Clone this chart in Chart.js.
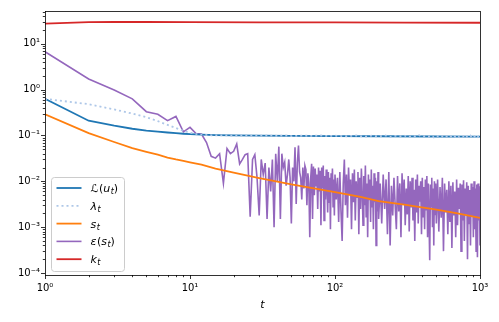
<!DOCTYPE html>
<html>
<head>
<meta charset="utf-8">
<script src="https://cdn.jsdelivr.net/npm/chart.js@4.4.1/dist/chart.umd.min.js"></script>
<style>
  html, body { margin: 0; padding: 0; background: #fff; }
</style>
</head>
<body>
<canvas id="chart" width="499" height="322"></canvas>
<script>
// integer steps for the t axis
const range = (a, b, step) => { const r = []; for (let v = a; v <= b; v += step) r.push(v); return r; };

// L(u_t)
const lossT = [1, 2, 3, 4, 5, 6, 7, 8, 9, 10, 12, 15, 20, 30, 50, 100, 200, 500, 1000];
const lossV = [0.63, 0.21, 0.163, 0.14, 0.128, 0.121, 0.116, 0.112, 0.109, 0.107, 0.104, 0.102, 0.1, 0.099, 0.098, 0.097, 0.096, 0.095, 0.094];

// lambda_t
const lamT = [1, 2, 3, 4, 5, 6, 7, 8, 9, 10, 11, 12, 14, 16, 18, 20, 23, 26, 30, 35, 40, 45, 50, 60, 70, 80, 90, 100].concat(range(120, 1000, 20));
const lamV = [
  0.63, 0.48, 0.37, 0.3, 0.25, 0.205, 0.17, 0.145, 0.126, 0.115,
  0.108, 0.104, 0.101, 0.1, 0.1, 0.099, 0.1, 0.098, 0.099, 0.1,
  0.098, 0.1, 0.097, 0.099, 0.098, 0.1, 0.097, 0.099,
  0.096, 0.1, 0.094, 0.099, 0.095, 0.101, 0.093, 0.098, 0.096, 0.1,
  0.092, 0.098, 0.095, 0.101, 0.093, 0.097, 0.094, 0.1, 0.091, 0.098,
  0.095, 0.1, 0.092, 0.097, 0.094, 0.1, 0.091, 0.098, 0.093, 0.099,
  0.092, 0.097, 0.094, 0.1, 0.091, 0.096, 0.093, 0.099, 0.09, 0.097,
  0.094, 0.1, 0.092, 0.096, 0.094
];

// s_t
const sT = [1, 2, 3, 4, 5, 6, 7, 8, 9, 10, 12, 15, 20, 30, 40, 50, 70, 100, 150, 200, 300, 500, 700, 1000];
const sV = [0.29, 0.112, 0.072, 0.053, 0.044, 0.038, 0.033, 0.03, 0.028, 0.026, 0.023, 0.019, 0.0155, 0.0118, 0.0098, 0.0086, 0.0071, 0.0058, 0.0046, 0.0037, 0.0031, 0.0024, 0.002, 0.0016];

// epsilon(s_t)
const epsT = range(1, 100, 1).concat(range(102, 200, 2), range(205, 500, 5), range(510, 1000, 10));
const epsV = [
  6.7, 1.7, 0.98, 0.63, 0.33, 0.29, 0.21, 0.26, 0.12, 0.15,
  0.11, 0.107, 0.07, 0.035, 0.032, 0.04, 0.009, 0.052, 0.04, 0.045,
  0.065, 0.024, 0.03, 0.038, 0.04, 0.0017, 0.03, 0.038, 0.012, 0.0018,
  0.03, 0.014, 0.025, 0.0015, 0.02, 0.006, 0.03, 0.001, 0.04, 0.01,
  0.057, 0.0015, 0.04, 0.02, 0.026, 0.008, 0.014, 0.03, 0.012, 0.0012,
  0.02, 0.01, 0.055, 0.0032, 0.025, 0.06, 0.016, 0.012, 0.004, 0.02,
  0.007, 0.022, 0.018, 0.003, 0.015, 0.009, 0.0006, 0.012, 0.024, 0.0015,
  0.021, 0.005, 0.019, 0.008, 0.014, 0.0025, 0.02, 0.006, 0.017, 0.0011,
  0.02, 0.007, 0.022, 0.0014, 0.013, 0.004, 0.018, 0.009, 0.0021, 0.016,
  0.0035, 0.012, 0.0009, 0.015, 0.006, 0.019, 0.0028, 0.011, 0.0018, 0.014,
  // t = 102..200 step 2
  0.004, 0.012, 0.0013, 0.016, 0.0022, 0.0005, 0.009, 0.03, 0.003, 0.014,
  0.0016, 0.02, 0.005, 0.011, 0.0009, 0.015, 0.0035, 0.018, 0.0014, 0.01,
  0.0045, 0.016, 0.0007, 0.012, 0.0025, 0.019, 0.006, 0.0011, 0.013, 0.003,
  0.022, 0.0017, 0.009, 0.0006, 0.014, 0.004, 0.011, 0.0013, 0.018, 0.0028,
  0.008, 0.0009, 0.015, 0.0035, 0.012, 0.0004, 0.01, 0.0022, 0.016, 0.0015,
  // t = 205..500 step 5
  0.009, 0.0012, 0.014, 0.0025, 0.011, 0.0007, 0.016, 0.0004, 0.008, 0.0018,
  0.012, 0.003, 0.0009, 0.013, 0.0022, 0.009, 0.0006, 0.015, 0.0032, 0.011,
  0.0011, 0.007, 0.0019, 0.013, 0.0008, 0.01, 0.0027, 0.012, 0.0014, 0.0065,
  0.0005, 0.011, 0.0021, 0.014, 0.0012, 0.008, 0.0036, 0.01, 0.0007, 0.012,
  0.0017, 0.0075, 0.0009, 0.011, 0.0024, 0.013, 0.0006, 0.009, 0.0015, 0.00019,
  0.0085, 0.0028, 0.012, 0.001, 0.007, 0.0004, 0.01, 0.0019, 0.009, 0.0012,
  // t = 510..1000 step 10
  0.011, 0.0008, 0.0075, 0.0016, 0.012, 0.0003, 0.009, 0.0021, 0.0065, 0.0007,
  0.01, 0.0013, 0.008, 0.00035, 0.0095, 0.0018, 0.006, 0.0006, 0.011, 0.0011,
  0.0072, 0.0025, 0.009, 0.0003, 0.0085, 0.0014, 0.0105, 0.0005, 0.007, 0.0019,
  0.0095, 0.0002, 0.008, 0.0012, 0.0065, 0.0004, 0.009, 0.0017, 0.0075, 0.0006,
  0.01, 0.0009, 0.007, 0.0003, 0.0085, 0.00022, 0.009, 0.0014, 0.0078, 0.0004
];

// k_t
const kT = [1, 2, 3, 5, 10, 30, 100, 300, 1000];
const kV = [27.5, 29.5, 29.8, 29.8, 29.6, 29.4, 29.2, 29.0, 28.7];

const yTicks = [1e-4, 1e-3, 1e-2, 1e-1, 1, 10];
const xTicks = [1, 10, 100, 1000];

const zip = (xs, ys) => xs.map((x, i) => ({ x: x, y: ys[i] }));
const supers = { '-': '⁻', '0': '⁰', '1': '¹', '2': '²', '3': '³', '4': '⁴' };
const powLabel = v => {
  const e = Math.round(Math.log10(v));
  if (Math.abs(Math.log10(v) - e) > 1e-6) return '';
  return '10' + String(e).split('').map(c => supers[c]).join('');
};

// legend text pieces: i = italic, n = upright, b = subscript
const legendText = [
  [['ℒ', 'i'], ['(', 'n'], ['u', 'i'], ['t', 'b'], [')', 'n']],
  [['λ', 'i'], ['t', 'b']],
  [['s', 'i'], ['t', 'b']],
  [['ε', 'i'], ['(', 'n'], ['s', 'i'], ['t', 'b'], [')', 'n']],
  [['k', 'i'], ['t', 'b']]
];

const frameAndTicks = {
  id: 'frameAndTicks',
  afterDraw(chart) {
    const ctx = chart.ctx, a = chart.chartArea;
    ctx.save();
    ctx.strokeStyle = '#000';
    ctx.lineWidth = 0.8;
    ['x', 'y'].forEach(id => {
      const s = chart.scales[id];
      const e0 = Math.floor(Math.log10(s.min)), e1 = Math.ceil(Math.log10(s.max));
      for (let e = e0; e <= e1; e++) {
        for (let m = 1; m < 10; m++) {
          const v = m * Math.pow(10, e);
          if (v < s.min * 0.999 || v > s.max * 1.001) continue;
          const p = Math.round(s.getPixelForValue(v)) + 0.5;
          const len = m === 1 ? 4 : 2.2;
          ctx.beginPath();
          if (id === 'x') { ctx.moveTo(p, a.bottom); ctx.lineTo(p, a.bottom + len); }
          else { ctx.moveTo(a.left, p); ctx.lineTo(a.left - len, p); }
          ctx.stroke();
        }
      }
    });
    ctx.strokeRect(Math.round(a.left) + 0.5, Math.round(a.top) + 0.5,
      Math.round(a.right - a.left), Math.round(a.bottom - a.top));

    // legend, lower left inside the axes
    const ds = chart.data.datasets;
    const bx = a.left + 6.5, by = a.top + 166.5, bw = 73, bh = 94;
    ctx.beginPath();
    ctx.roundRect(bx, by, bw, bh, 3);
    ctx.fillStyle = 'rgba(255,255,255,0.8)';
    ctx.fill();
    ctx.strokeStyle = '#cccccc';
    ctx.lineWidth = 1;
    ctx.stroke();
    ds.forEach((d, i) => {
      const y = by + 10.5 + i * 17.8;
      ctx.beginPath();
      ctx.strokeStyle = d.borderColor;
      ctx.lineWidth = d.borderWidth;
      ctx.setLineDash(d.borderDash || []);
      ctx.moveTo(bx + 5, y);
      ctx.lineTo(bx + 30, y);
      ctx.stroke();
      ctx.setLineDash([]);
      let x = bx + 39;
      ctx.fillStyle = '#000';
      ctx.textBaseline = 'alphabetic';
      legendText[i].forEach(([txt, kind]) => {
        if (kind === 'b') ctx.font = 'italic 8px "DejaVu Sans"';
        else if (kind === 'i') ctx.font = 'italic 11px "DejaVu Sans"';
        else ctx.font = '11px "DejaVu Sans"';
        const yy = kind === 'b' ? y + 6 : y + 4;
        ctx.fillText(txt, x, yy);
        x += ctx.measureText(txt).width + (kind === 'i' ? 0.5 : 0);
      });
    });
    ctx.restore();
  }
};

const line = (label, pts, color, width, order, dash) => ({
  label: label,
  data: pts,
  borderColor: color,
  backgroundColor: color,
  borderWidth: width,
  borderDash: dash,
  pointRadius: 0,
  tension: 0,
  fill: false,
  order: order
});

new Chart(document.getElementById('chart'), {
  type: 'line',
  data: {
    datasets: [
      line('ℒ(u_t)', zip(lossT, lossV), '#1f77b4', 1.8, 4),
      line('λ_t', zip(lamT, lamV), '#aec7e8', 1.8, 3, [2, 3]),
      line('s_t', zip(sT, sV), '#ff7f0e', 1.8, 2),
      line('ε(s_t)', zip(epsT, epsV), '#9467bd', 1.6, 5),
      line('k_t', zip(kT, kV), '#d62728', 1.8, 1)
    ]
  },
  options: {
    responsive: false,
    devicePixelRatio: 1,
    animation: false,
    layout: { padding: { top: 9, right: 19, left: 0, bottom: 0 } },
    plugins: { legend: { display: false }, tooltip: { enabled: false } },
    scales: {
      x: {
        type: 'logarithmic',
        min: 1,
        max: 1000,
        afterBuildTicks: s => { s.ticks = xTicks.map(v => ({ value: v })); },
        afterFit: s => { s.height = 47; },
        grid: { display: false, drawTicks: false },
        border: { display: false },
        ticks: {
          autoSkip: false,
          maxRotation: 0,
          padding: 7,
          color: '#000',
          font: { family: 'DejaVu Sans', size: 10 },
          callback: v => powLabel(v)
        },
        title: {
          display: true,
          text: 't',
          color: '#000',
          font: { family: 'DejaVu Sans', size: 11, style: 'italic' },
          padding: { top: 0, bottom: 10 }
        }
      },
      y: {
        type: 'logarithmic',
        min: 9.05e-5,
        max: 51.8,
        afterBuildTicks: s => { s.ticks = yTicks.map(v => ({ value: v })); },
        afterFit: s => { s.width = 45; },
        grid: { display: false, drawTicks: false },
        border: { display: false },
        ticks: {
          autoSkip: false,
          padding: 5,
          color: '#000',
          font: { family: 'DejaVu Sans', size: 10 },
          callback: v => powLabel(v)
        }
      }
    }
  },
  plugins: [frameAndTicks]
});
</script>
</body>
</html>
